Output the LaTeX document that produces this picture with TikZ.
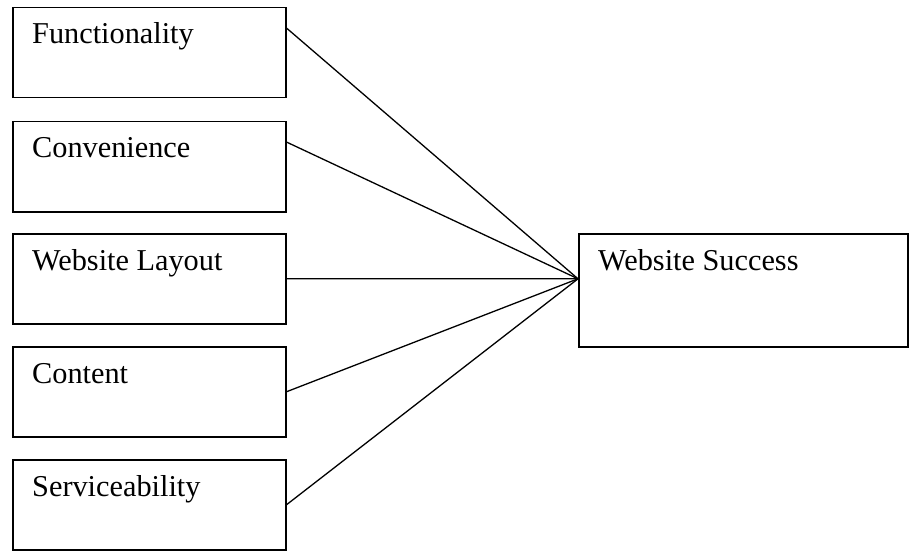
\documentclass[tikz,border=0pt]{standalone}
\usepackage{fontspec}
\setmainfont{Liberation Serif}
\usetikzlibrary{calc}

\tikzset{
  factor/.style={draw=black,line width=1.5pt,minimum width=273pt,
    minimum height=90pt,inner sep=0pt,anchor=north west},
  outcome/.style={factor,minimum width=329pt,minimum height=113pt},
  tag/.style={anchor=base west,inner sep=0pt,xshift=20pt,yshift=-37pt,
    font=\fontsize{30.3}{36}\selectfont},
  link/.style={draw=black,line width=1.3pt}
}

\begin{document}
\begin{tikzpicture}[x=1pt,y=1pt]
  \useasboundingbox (0,0) rectangle (909,550);
  % factors on the left
  \node[factor,label={[tag]north west:Functionality}] (func) at (12,543) {};
  \node[factor,label={[tag]north west:Convenience}] (conv) at (12,429) {};
  \node[factor,label={[tag]north west:Website Layout}] (layout) at (12,317) {};
  \node[factor,label={[tag]north west:Content}] (content) at (12,204) {};
  \node[factor,label={[tag]north west:Serviceability}] (serv) at (12,91) {};
  % outcome on the right
  \node[outcome,label={[tag]north west:Website Success}] (succ) at (578,317) {};
  \coordinate (hub) at ($(succ.north west)!0.4!(succ.south west)$);
  % connectors
  \draw[link] ($(func.north east)!0.23!(func.south east)$) -- (hub);
  \draw[link] ($(conv.north east)!0.23!(conv.south east)$) -- (hub);
  \draw[link] (layout.east) -- (hub);
  \draw[link] (content.east) -- (hub);
  \draw[link] (serv.east) -- (hub);
\end{tikzpicture}
\end{document}
